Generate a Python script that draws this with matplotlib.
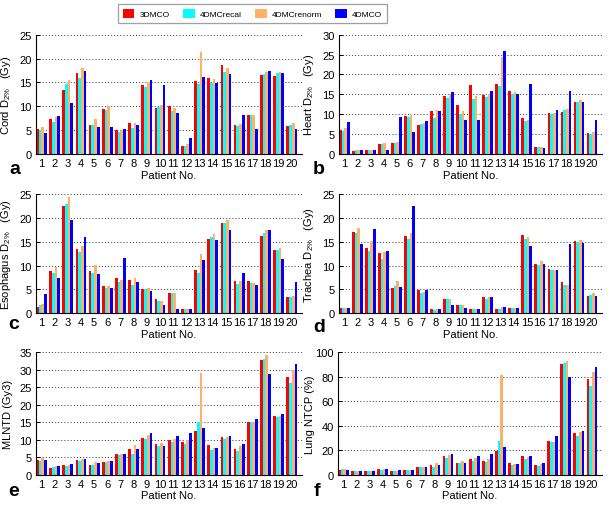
import matplotlib
matplotlib.use("Agg")
import matplotlib.pyplot as plt
import numpy as np
from matplotlib.patches import Patch

plt.rcParams['font.family'] = ['Liberation Sans', 'DejaVu Sans']
plt.rcParams['mathtext.default'] = 'regular'

patients = list(range(1, 21))
series_names = ['3DMCO', '4DMCrecal', '4DMCrenorm', '4DMCO']
series_colors = ['#FF0000', '#00FFFF', '#FFB266', '#0000FF']

cord_3d = [5.2, 7.3, 13.5, 16.9, 6.1, 9.5, 5.1, 6.6, 14.5, 9.6, 10.1, 1.6, 15.3, 15.9, 18.7, 6.1, 8.2, 16.6, 16.4, 5.9]
cord_recal = [5.1, 6.8, 14.6, 16.0, 6.1, 9.3, 4.6, 5.4, 14.0, 9.9, 9.1, 1.7, 14.7, 14.8, 17.2, 5.9, 8.2, 16.7, 17.0, 6.0]
cord_renorm = [5.7, 7.8, 15.5, 18.0, 7.3, 10.0, 5.1, 6.6, 15.0, 10.3, 9.6, 2.0, 21.4, 15.7, 18.0, 6.2, 8.2, 17.1, 17.1, 6.6]
cord_4d = [4.5, 7.9, 10.7, 17.3, 5.7, 5.6, 5.2, 6.1, 15.5, 14.4, 8.6, 3.4, 16.2, 14.8, 16.8, 8.2, 5.2, 17.3, 17.0, 5.3]

heart_3d = [6.0, 0.8, 1.1, 2.5, 2.7, 9.5, 7.3, 10.7, 14.6, 12.4, 17.3, 14.8, 17.5, 15.8, 9.0, 1.8, 10.3, 10.5, 13.2, 5.4]
heart_recal = [5.8, 0.9, 0.9, 2.5, 2.7, 9.3, 7.5, 9.0, 14.1, 10.1, 13.9, 14.4, 17.0, 15.0, 8.3, 1.8, 10.0, 11.1, 13.2, 5.0]
heart_renorm = [6.5, 1.1, 1.0, 2.7, 3.0, 10.0, 7.9, 11.1, 15.2, 10.7, 14.5, 15.1, 24.5, 15.5, 8.5, 1.7, 10.3, 11.3, 13.5, 5.5]
heart_4d = [8.1, 1.1, 1.1, 1.1, 9.3, 5.6, 8.4, 10.9, 15.6, 8.5, 8.5, 15.8, 26.0, 15.0, 17.6, 1.6, 11.0, 15.8, 13.2, 8.5]

eso_3d = [1.3, 8.9, 22.4, 13.5, 8.9, 5.8, 7.5, 6.9, 5.1, 2.9, 4.3, 1.0, 9.0, 15.6, 19.0, 6.8, 6.7, 16.1, 13.2, 3.4]
eso_recal = [1.8, 8.4, 23.0, 12.8, 8.4, 5.4, 6.6, 5.9, 5.1, 2.6, 4.2, 1.0, 8.4, 16.0, 18.9, 6.1, 6.4, 16.9, 13.2, 3.4]
eso_renorm = [1.9, 9.8, 24.4, 14.2, 10.1, 5.8, 7.0, 7.3, 5.3, 2.6, 4.2, 1.0, 12.4, 16.7, 19.5, 6.8, 6.4, 17.4, 13.6, 3.6]
eso_4d = [4.0, 7.3, 19.6, 16.0, 8.2, 5.2, 11.6, 6.6, 4.6, 1.8, 0.9, 1.0, 11.2, 15.3, 17.5, 8.5, 6.0, 17.4, 11.4, 6.6]

tra_3d = [1.1, 17.0, 13.7, 12.6, 5.4, 16.3, 4.8, 0.9, 3.0, 1.8, 0.9, 3.4, 0.9, 1.1, 16.4, 10.4, 9.2, 6.6, 15.2, 3.7]
tra_recal = [1.1, 16.9, 13.1, 11.4, 5.7, 15.5, 4.3, 0.6, 3.0, 1.8, 0.9, 3.1, 0.9, 1.1, 15.5, 10.1, 9.0, 6.0, 15.0, 3.9]
tra_renorm = [1.1, 17.9, 15.1, 12.8, 6.8, 16.8, 4.5, 1.0, 3.0, 1.8, 0.9, 3.4, 1.3, 1.1, 15.9, 11.0, 9.0, 6.0, 15.4, 4.2]
tra_4d = [1.1, 14.6, 17.6, 13.0, 5.5, 22.5, 4.8, 0.8, 1.8, 1.1, 0.9, 3.4, 1.4, 1.1, 14.2, 10.3, 9.0, 14.6, 14.7, 3.7]

mlntd_3d = [4.3, 1.9, 2.7, 4.1, 2.9, 3.6, 6.0, 7.2, 10.6, 8.7, 10.0, 9.3, 12.5, 8.5, 10.8, 7.4, 15.1, 32.8, 16.8, 28.0]
mlntd_recal = [4.0, 2.1, 2.5, 3.8, 2.9, 3.6, 5.6, 6.0, 10.1, 8.2, 9.3, 8.8, 15.1, 7.0, 10.1, 6.9, 15.0, 33.0, 16.4, 26.2]
mlntd_renorm = [4.8, 2.4, 2.7, 4.4, 3.6, 4.0, 6.0, 8.4, 11.3, 9.0, 10.3, 9.8, 28.9, 7.7, 10.7, 8.1, 15.0, 34.1, 16.8, 30.0]
mlntd_4d = [4.3, 2.4, 3.0, 4.6, 3.3, 3.8, 6.0, 7.4, 11.8, 8.2, 11.0, 11.8, 13.4, 7.7, 11.0, 8.7, 15.9, 28.7, 17.3, 31.6]

ntcp_3d = [4.1, 3.0, 2.9, 4.3, 2.9, 3.5, 6.5, 7.6, 14.9, 9.8, 12.8, 11.4, 19.0, 9.8, 14.9, 7.9, 27.7, 89.9, 34.2, 78.0]
ntcp_recal = [4.3, 2.8, 2.8, 3.8, 2.9, 3.5, 6.0, 6.0, 13.9, 9.2, 11.4, 10.6, 27.4, 8.2, 12.8, 7.3, 26.4, 91.0, 31.8, 72.6]
ntcp_renorm = [4.3, 2.8, 2.8, 4.6, 3.4, 3.8, 6.0, 9.8, 16.0, 10.9, 13.3, 12.5, 81.0, 8.4, 14.4, 9.0, 26.6, 92.4, 34.5, 84.0]
ntcp_4d = [4.1, 2.8, 2.9, 4.6, 3.6, 3.8, 6.3, 7.6, 16.8, 9.2, 15.5, 16.8, 22.3, 8.4, 15.5, 9.5, 31.3, 79.9, 35.6, 87.5]

ylabels = [r'Cord D$_{2\%}$   (Gy)', r'Heart D$_{2\%}$   (Gy)', r'Esophagus D$_{2\%}$   (Gy)',
           r'Trachea D$_{2\%}$   (Gy)', 'MLNTD (Gy3)', 'Lung NTCP (%)']
panel_letters = ['a', 'b', 'c', 'd', 'e', 'f']
ymax = [25, 30, 25, 25, 35, 100]
ystep = [5, 5, 5, 5, 5, 20]

panels = [
    [cord_3d, cord_recal, cord_renorm, cord_4d],
    [heart_3d, heart_recal, heart_renorm, heart_4d],
    [eso_3d, eso_recal, eso_renorm, eso_4d],
    [tra_3d, tra_recal, tra_renorm, tra_4d],
    [mlntd_3d, mlntd_recal, mlntd_renorm, mlntd_4d],
    [ntcp_3d, ntcp_recal, ntcp_renorm, ntcp_4d],
]

W, H = 609, 506
fig = plt.figure(figsize=(W / 100, H / 100), dpi=100)

# axes boxes in pixels: left, right, top, bottom
boxes = [
    (36, 302, 35.7, 155),
    (339, 602, 35.7, 155),
    (36, 302, 195, 314.3),
    (339, 602, 195, 314.3),
    (36, 302, 353, 475.7),
    (338, 602, 353, 475.7),
]
letter_pos = [(9, 174), (313, 174), (8, 329), (313, 332), (8, 496.5), (314, 496.5)]

bw = 0.205
offsets = [-1.5 * bw, -0.5 * bw, 0.5 * bw, 1.5 * bw]
x = np.array(patients, dtype=float)
fs = 8

for i, (box, data) in enumerate(zip(boxes, panels)):
    l, r, t, b = box
    ax = fig.add_axes([l / W, 1 - b / H, (r - l) / W, (b - t) / H])
    for s in range(4):
        ax.bar(x + offsets[s], data[s], width=bw, color=series_colors[s], linewidth=0, zorder=2)
    ax.set_xlim(0.59, 20.77)
    ax.set_ylim(0, ymax[i])
    ax.set_yticks(np.arange(0, ymax[i] + 0.1, ystep[i]))
    ax.set_xticks(patients)
    ax.set_xticklabels([str(p) for p in patients])
    ax.tick_params(axis='y', direction='in', length=3, width=0.7, pad=3, labelsize=fs)
    ax.tick_params(axis='x', length=0, pad=3, labelsize=fs)
    for sp in ['top', 'right']:
        ax.spines[sp].set_visible(False)
    for sp in ['left', 'bottom']:
        ax.spines[sp].set_linewidth(0.8)
        ax.spines[sp].set_zorder(3)
    for yv in np.arange(ystep[i], ymax[i] + 0.1, ystep[i]):
        ax.axhline(yv, color='#333333', linestyle=(0, (1, 2.2)), linewidth=0.7, zorder=1)
    ax.set_xlabel('Patient No.', fontsize=fs, labelpad=1)
    ax.set_ylabel(ylabels[i], fontsize=fs)
    ax.yaxis.set_label_coords(-23 / (r - l), 0.5)
    lx, ly = letter_pos[i]
    fig.text(lx / W, 1 - ly / H, panel_letters[i], fontsize=14, fontweight='bold',
             ha='left', va='baseline')

handles = [Patch(facecolor=c, edgecolor='none') for c in series_colors]
leg = fig.legend(handles, series_names, loc='center', ncol=4,
                 bbox_to_anchor=(252.5 / W, 1 - 14.5 / H), fontsize=6,
                 handlelength=1.4, handleheight=1.4, handletextpad=0.6,
                 columnspacing=1.6, borderpad=0.55, fancybox=False, frameon=True)
leg.get_frame().set_edgecolor('#888888')
leg.get_frame().set_linewidth(0.9)

fig.savefig('out.png', dpi=100, facecolor='white')
